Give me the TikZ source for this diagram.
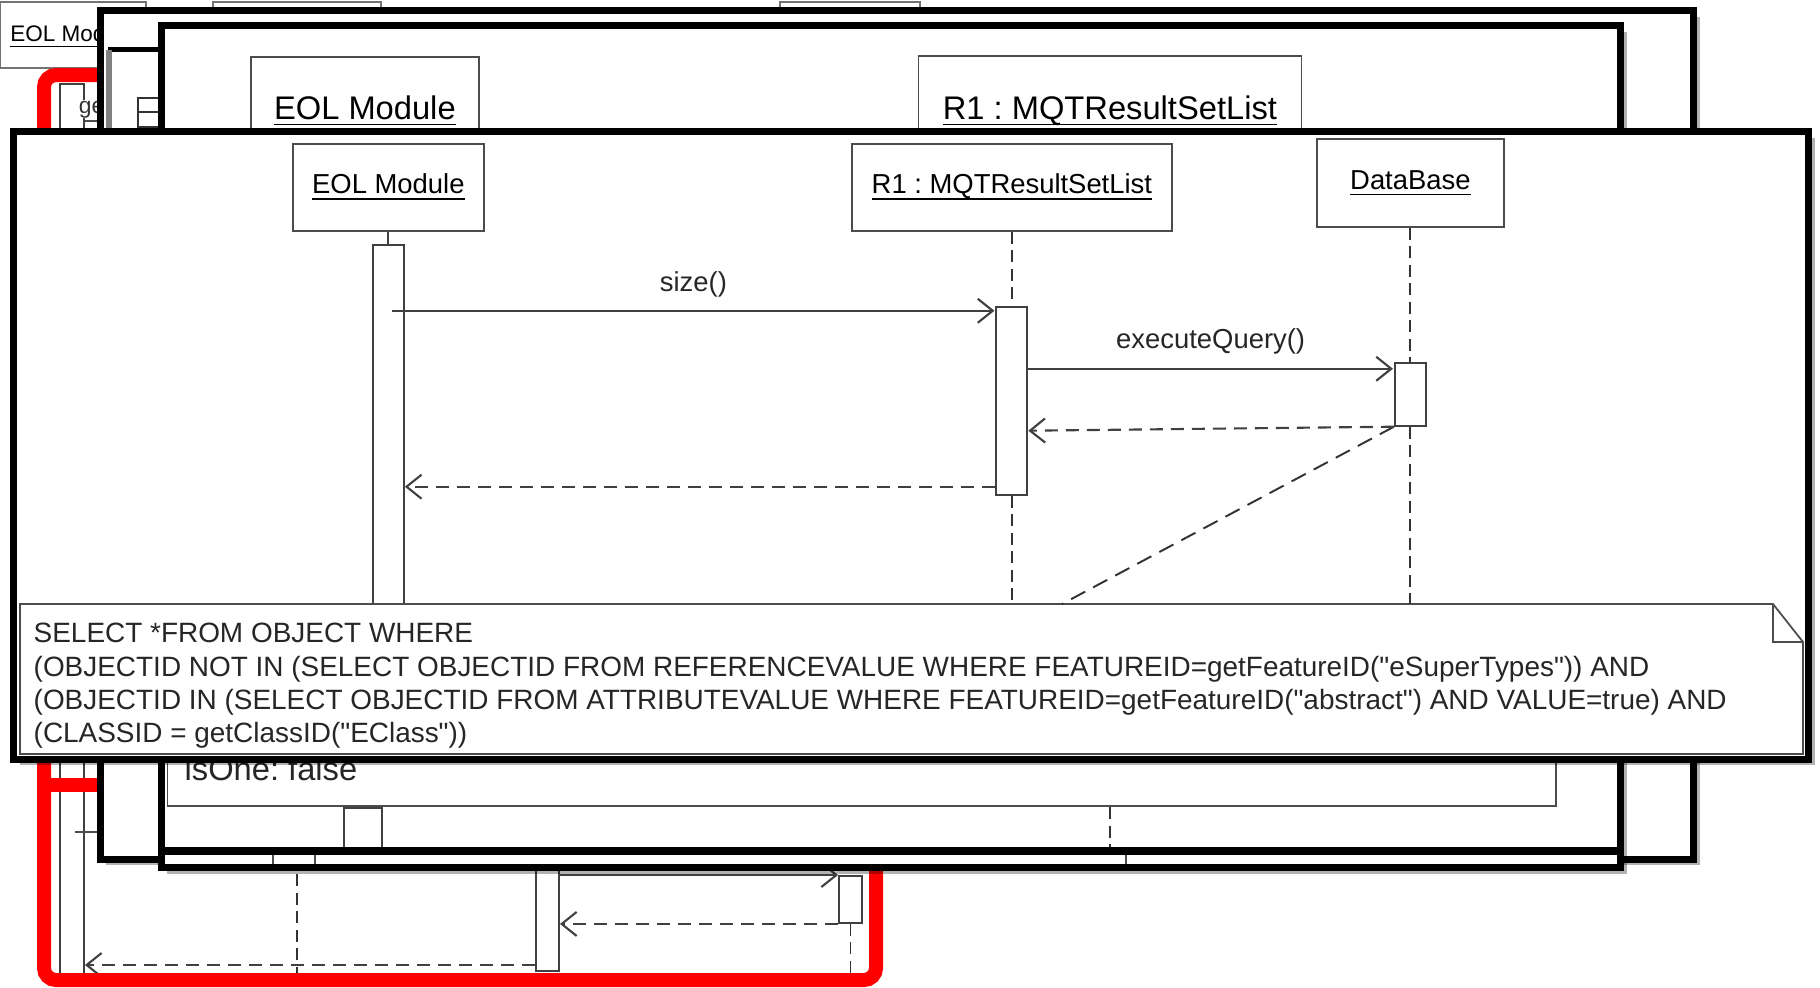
\documentclass[tikz,border=0pt]{standalone}
\usepackage{fontspec}
\setmainfont{Liberation Sans}
\usetikzlibrary{arrows.meta,positioning,calc,shadows}

\newcommand{\seqfont}{\fontsize{7.8}{9.45}\selectfont}
\newcommand{\notefont}{\fontsize{7.95}{9.5}\selectfont}
\newcommand{\bigseqfont}{\fontsize{9.3}{11}\selectfont}
\newcommand{\oldfont}{\fontsize{6.4}{7.5}\selectfont}
\newcommand{\dq}{\textquotedbl}
\newcommand{\ulname}[1]{\underline{\smash{#1}}}
\frenchspacing

\begin{document}
\begin{tikzpicture}[x=1mm,y=-1mm,
    shotframe/.style={draw=black, line width=0.7mm, fill=white,
      drop shadow={shadow xshift=0.6mm, shadow yshift=-0.6mm, fill=black, opacity=0.3}},
    objbox/.style={draw=black!70, line width=0.5pt, fill=white, inner sep=0pt, text height=2.0mm, text depth=0.7mm},
    bigobjbox/.style={objbox, text height=2.4mm, text depth=0.85mm},
    actbar/.style={draw=black!75, line width=0.55pt, fill=white, inner sep=0pt, minimum width=3.1mm},
    lifeline/.style={black!80, line width=0.55pt, dash pattern=on 1.2mm off 0.65mm},
    msg/.style={black!75, line width=0.6pt, -{Straight Barb[length=1.5mm,width=2.4mm]}},
    reply/.style={msg, dash pattern=on 1.3mm off 0.8mm},
    redmark/.style={draw=red, line width=1.4mm, rounded corners=1.2mm}]

    \useasboundingbox (0,0) rectangle (182,98.7);

    % Old diagram, under all the shots
    \node[objbox, draw=black!55, minimum width=14.6mm, minimum height=6.6mm, font=\oldfont] (oldmod) at (7.3,3.5) {\ulname{EOL Module}};
    \node[objbox, draw=black!55, minimum width=16.8mm, minimum height=6mm] (oldtopa) at (29.7,3.2) {};
    \node[objbox, draw=black!55, minimum width=14mm, minimum height=6mm] (oldtopb) at (85,3.2) {};
    \node[actbar, minimum width=2.4mm, minimum height=89mm, anchor=north] (oldbar) at (7.2,8.3) {};
    \node[anchor=base west, fill=white, inner sep=0.2pt, text=black!80, font=\fontsize{6.5}{8}\selectfont] (oldge) at (7.75,11.3) {ge};
    \draw[black!70, line width=0.45pt] (8.5,12.1) -- (9.8,12.1);
    \draw[black!70, line width=0.45pt] (7.5,83.2) -- (10.4,83.2);
    \draw[lifeline] (29.7,80) -- (29.7,98.5);
    \node[actbar, minimum width=2.3mm, minimum height=17mm, anchor=south] (oldcall) at (54.75,97.2) {};
    \node[actbar, minimum width=2.3mm, minimum height=4.7mm, anchor=north] (oldq) at (85.05,87.5) {};
    \draw[msg] (oldcall.east |- oldq.north) -- (oldq.north west);
    \draw[reply] (oldq.south west) -- (oldq.south west -| oldcall.east);
    \draw[lifeline] (oldq.south) -- (85.05,98.5);
    \draw[reply] ($(oldcall.south west)+(0,-0.7)$) -- ($(oldbar.east |- oldcall.south)+(0,-0.7)$);

    % Red marking
    \draw[redmark] (4.4,7.5) rectangle (87.6,98.0);
    \draw[redmark, rounded corners=0] (4.4,78.5) -- (10.4,78.5);

    % First shot
    \draw[shotframe] (10.0,1.05) rectangle (169.35,85.9);
    \draw[black, line width=0.5mm] (10.8,4.9) -- (15.8,4.9);
    \draw[black!50, line width=0.6mm] (10.85,5.0) -- (10.85,12.8);
    \draw[black!80, line width=0.6pt] (13.8,9.8) rectangle (15.9,12.7) (13.8,11.2) -- (15.9,11.2);

    % Second shot (larger)
    \draw[shotframe] (16.1,2.55) rectangle (162.05,86.75);
    \node[bigobjbox, anchor=north west, minimum width=22.8mm, minimum height=11.0mm, font=\bigseqfont] (yeol) at (25.0,5.6) {\ulname{EOL Module}};
    \node[bigobjbox, anchor=north west, minimum width=38.3mm, minimum height=11.2mm, font=\bigseqfont] (yrone) at (91.75,5.5) {\ulname{R1 : MQTResultSetList}};
    \node[objbox, anchor=south west, minimum width=138.85mm, minimum height=10mm] (yattr) at (16.65,80.7) {};
    \node[anchor=base west, inner sep=0pt, text=black!85, font=\bigseqfont] (yisone) at (18.4,78.0) {isOne: false};
    \node[actbar, minimum width=3.8mm, minimum height=4mm, anchor=north] (yeolbar) at (36.3,80.7) {};
    \draw[lifeline] (yattr.south -| yrone.south) -- ++(0,4);
    \draw[black, line width=0.75mm] (16.1,85.1) -- (162.05,85.1);
    \draw[black!70, line width=0.45pt] (27.3,85.5) -- (27.3,86.4) (31.5,85.5) -- (31.5,86.4) (112.6,85.5) -- (112.6,86.4);

    % Front shot
    \draw[shotframe] (1.35,13.15) rectangle (180.85,75.9);
    \node[objbox, anchor=north west, minimum width=19.1mm, minimum height=8.7mm, font=\seqfont] (eol) at (29.2,14.3) {\ulname{EOL Module}};
    \node[objbox, anchor=north west, minimum width=32mm, minimum height=8.7mm, font=\seqfont] (rone) at (85.1,14.3) {\ulname{R1 : MQTResultSetList}};
    \node[objbox, anchor=north west, minimum width=18.7mm, minimum height=8.8mm, font=\seqfont] (db) at (131.6,13.8) {\ulname{DataBase}};

    \node[actbar, minimum height=36.2mm, below=1.2mm of eol] (eolbar) {};
    \node[actbar, minimum height=18.8mm, below=7.4mm of rone] (ronebar) {};
    \node[actbar, minimum height=6.3mm, below=13.4mm of db] (dbbar) {};

    % Note
    \coordinate (notetl) at (2.0,60.4);
    \coordinate (notefold) at (177.3,60.4);
    \coordinate (notetr) at (180.3,64.2);
    \coordinate (notebr) at (180.3,75.4);
    \coordinate (notebl) at (2.0,75.4);
    \draw[black!70, line width=0.5pt, fill=white] (notetl) -- (notefold) -- (notetr) -- (notebr) -- (notebl) -- cycle;
    \draw[black!70, line width=0.5pt] (notefold) -- (notefold |- notetr) -- (notetr);
    \node[anchor=north west, align=left, inner sep=0pt, text=black!85, font=\notefont] (sqltext) at (3.3,62.25)
      {SELECT *FROM OBJECT WHERE\\
       (OBJECTID NOT IN (SELECT OBJECTID FROM REFERENCEVALUE WHERE FEATUREID=getFeatureID(\dq eSuperTypes\dq)) AND\\
       (OBJECTID IN (SELECT OBJECTID FROM ATTRIBUTEVALUE WHERE FEATUREID=getFeatureID(\dq abstract\dq) AND VALUE=true) AND\\
       (CLASSID = getClassID(\dq EClass\dq))};

    % Lifelines
    \draw[black!75, line width=0.55pt] (eol) -- (eolbar);
    \draw[lifeline] (rone) -- (ronebar);
    \draw[lifeline] (ronebar.south) -- (ronebar.south |- notetl);
    \draw[lifeline] (db) -- (dbbar);
    \draw[lifeline] (dbbar.south) -- (dbbar.south |- notetl);
    \draw[lifeline, dash pattern=on 1.6mm off 0.9mm] (dbbar.south west) -- (106.2,60.4);

    % Messages
    \draw[msg] ($(eolbar.north |- ronebar.north)+(0.4,0.5)$) -- ($(ronebar.north west)+(-0.1,0.5)$)
      node[midway, anchor=base, yshift=1.9mm, text=black!85, font=\seqfont] (sizelbl) {size()};
    \draw[msg] ($(ronebar.east |- dbbar.north)+(0,0.7)$) -- ($(dbbar.north west)+(-0.1,0.7)$)
      node[midway, anchor=base, yshift=2.0mm, text=black!85, font=\seqfont] (querylbl) {executeQuery()};
    \draw[reply] (dbbar.south west) -- ($(ronebar.east |- dbbar.south)+(0,0.4)$);
    \draw[reply] ($(ronebar.south west)+(0,-0.9)$) -- ($(eolbar.east |- ronebar.south)+(0,-0.9)$);
  \end{tikzpicture}
\end{document}
